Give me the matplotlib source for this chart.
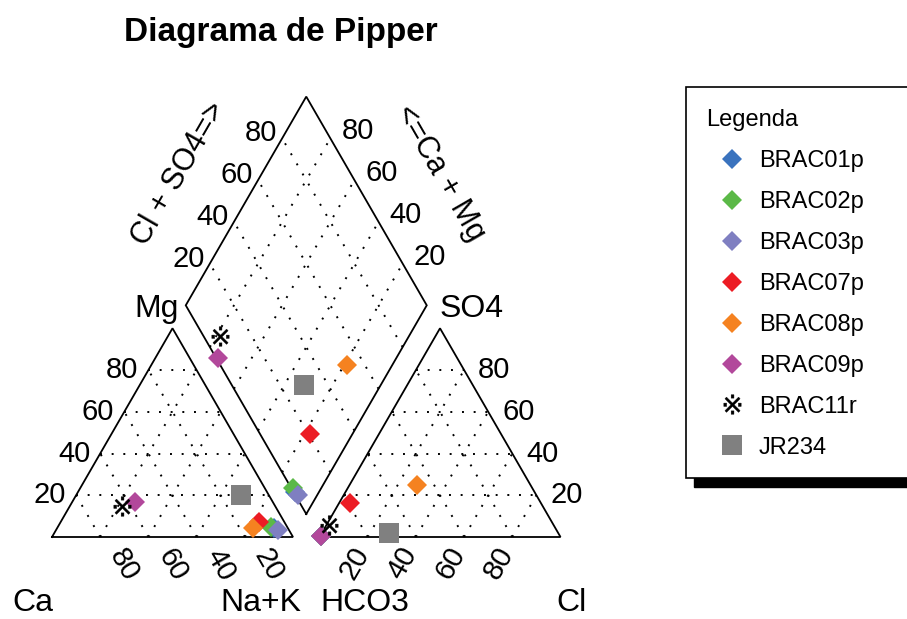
import numpy as np
import matplotlib.pyplot as plt
from matplotlib.lines import Line2D
from matplotlib.patches import Rectangle

plt.rcParams['font.family'] = ['Liberation Sans', 'DejaVu Sans']

samples = ['BRAC01p', 'BRAC02p', 'BRAC03p', 'BRAC07p', 'BRAC08p', 'BRAC09p', 'BRAC11r', 'JR234']
# cations, % meq/L
ca = np.array([5.6, 6.8, 4.6, 10.6, 14.5, 57.0, 63.4, 11.6])
mg = np.array([4.2, 4.8, 3.4, 7.2, 4.3, 16.8, 14.9, 20.2])
nak = 100 - ca - mg
# anions, % meq/L
so4 = np.array([0.4, 0.4, 0.5, 16.3, 24.9, 0.3, 5.8, 1.9])
cl = np.array([0.4, 0.3, 0.4, 4.3, 27.8, 0.6, 1.2, 28.0])
hco3 = 100 - so4 - cl

colors = ['#3a73be', '#5bb947', '#7f7fc1', '#ec1c24', '#f58220', '#b2489b', 'black', '#808080']
markers = ['D', 'D', 'D', 'D', 'D', 'D', '$※$', 's']
msizes = [10.2, 10.2, 10.2, 10.2, 10.2, 10.2, 14, 15]
ticks = [20, 40, 60, 80]

H = np.sqrt(3) / 2
OFF = 0.11
S = 241.0  # pixels per triangle side


def cat_xy(m, n):
    return n + 0.5 * m, m * H


def an_xy(s, c):
    return 1 + OFF + c + 0.5 * s, s * H


def dia_xy(cm, cs):
    return 1 + OFF / 2 + 0.5 * (cs - cm), OFF * H + H * (cm + cs)


def px(x, y):
    return (x - 52) / S, (537 - y) / S


fig = plt.figure(figsize=(9.07, 6.19), dpi=100)
ax = fig.add_axes([0, 0, 1, 1])
ax.set_xlim(-52 / S, (907 - 52) / S)
ax.set_ylim((537 - 619) / S, 537 / S)
ax.axis('off')

lw = 1.3
dot = dict(color='black', lw=1.4, linestyle=(0, (1, 5)))

# outlines
for pts in ([cat_xy(0, 0), cat_xy(0, 1), cat_xy(1, 0), cat_xy(0, 0)],
            [an_xy(0, 0), an_xy(0, 1), an_xy(1, 0), an_xy(0, 0)],
            [dia_xy(0, 0), dia_xy(1, 0), dia_xy(1, 1), dia_xy(0, 1), dia_xy(0, 0)]):
    xs, ys = zip(*pts)
    ax.plot(xs, ys, color='black', lw=lw, solid_joinstyle='miter')

# dotted grid
for t in np.array(ticks) / 100:
    for f in (cat_xy, an_xy):
        for p, q in ((f(t, 0), f(t, 1 - t)),
                     (f(0, t), f(1 - t, t)),
                     (f(0, 1 - t), f(1 - t, 0))):
            ax.plot([p[0], q[0]], [p[1], q[1]], **dot)
    for p, q in ((dia_xy(t, 0), dia_xy(t, 1)), (dia_xy(0, t), dia_xy(1, t))):
        ax.plot([p[0], q[0]], [p[1], q[1]], **dot)

# tick labels
fs = 21
for v in ticks:
    t = v / 100
    x, y = cat_xy(t, 0)
    ax.text(x - 10 / S, y, str(v), ha='right', va='center', fontsize=fs)
    x, y = cat_xy(0, 1 - t)
    ax.text(x + 24 / S, y - 28 / S, str(v), ha='center', va='center', fontsize=fs, rotation=-60)
    x, y = an_xy(t, 1 - t)
    ax.text(x + 14 / S, y, str(v), ha='left', va='center', fontsize=fs)
    x, y = an_xy(0, t)
    ax.text(x - 13 / S, y - 26 / S, str(v), ha='center', va='center', fontsize=fs, rotation=60)
    x, y = dia_xy(1, t)
    ax.text(x - 5 / S, y + 5 / S, str(v), ha='right', va='center', fontsize=fs)
    x, y = dia_xy(t, 1)
    ax.text(x + 11 / S, y + 7 / S, str(v), ha='left', va='center', fontsize=fs)

# axis names
fa = 23
for name, x, y in (('Ca', 33, 611), ('Na+K', 261, 611), ('HCO3', 365, 611),
                   ('Cl', 572, 611), ('Mg', 157, 317), ('SO4', 472, 317)):
    ax.text(*px(x, y), name, ha='center', va='baseline', fontsize=fa)
ax.text(*px(179, 174), 'Cl + SO4=>', ha='center', va='center', fontsize=22, rotation=60,
        rotation_mode='anchor')
ax.text(*px(440, 173), '<=Ca + Mg', ha='center', va='center', fontsize=22, rotation=-60,
        rotation_mode='anchor')
ax.text(*px(281, 32), 'Diagrama de Pipper', ha='center', va='center', fontsize=24,
        fontweight='bold')

# samples
cx, cy = cat_xy(mg / 100, nak / 100)
axx, axy = an_xy(so4 / 100, cl / 100)
dx, dy = dia_xy((ca + mg) / 100, (so4 + cl) / 100)
handles = []
for i, name in enumerate(samples):
    kw = dict(marker=markers[i], ms=msizes[i], color=colors[i], mew=0, linestyle='none')
    if markers[i].startswith('$'):
        kw['mew'] = 0.3
    ax.plot([cx[i], axx[i], dx[i]], [cy[i], axy[i], dy[i]], **kw)
    handles.append(Line2D([], [], label=name, **kw))

# legend box with shadow
x0, y0 = px(686, 478)
x1, y1 = px(920, 87)
ax.add_patch(Rectangle((x0 + 8 / S, y0 - 9 / S), x1 - x0, y1 - y0, facecolor='black',
                       edgecolor='black', clip_on=False))
ax.add_patch(Rectangle((x0, y0), x1 - x0, y1 - y0, facecolor='white', edgecolor='black',
                       lw=1.2, clip_on=False))
leg = ax.legend(handles=handles, title='Legenda', loc='upper left',
                bbox_to_anchor=(697 / 907, 1 - 100 / 619), frameon=False, fontsize=17,
                title_fontsize=17, alignment='left', labelspacing=0.80,
                handlelength=2.2, handletextpad=0.02, borderaxespad=0)

fig.savefig('out.png', dpi=100)
